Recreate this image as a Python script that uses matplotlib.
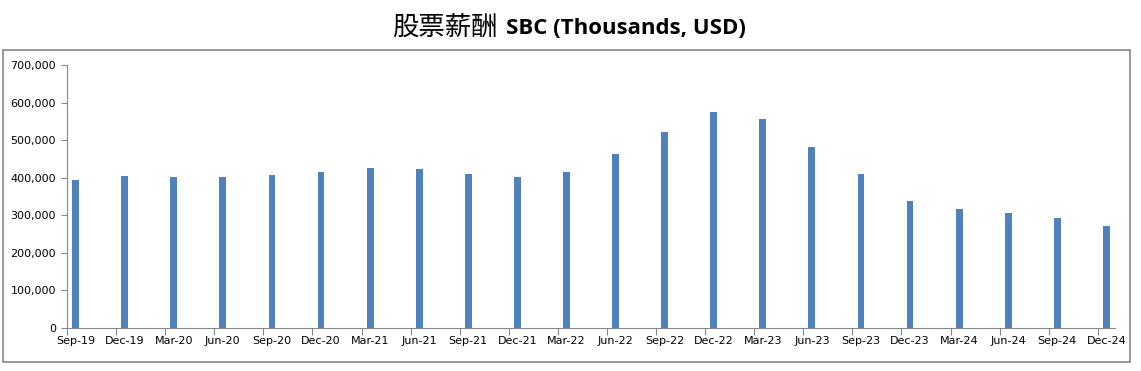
import numpy as np
import matplotlib
matplotlib.use("Agg")
import matplotlib.pyplot as plt
from matplotlib.patches import Rectangle
from matplotlib.ticker import FuncFormatter

# quarterly stock based compensation, thousands USD
quarters = ["Sep-19", "Dec-19", "Mar-20", "Jun-20", "Sep-20", "Dec-20", "Mar-21", "Jun-21",
            "Sep-21", "Dec-21", "Mar-22", "Jun-22", "Sep-22", "Dec-22", "Mar-23", "Jun-23",
            "Sep-23", "Dec-23", "Mar-24", "Jun-24", "Sep-24", "Dec-24"]
sbc = [394000, 404000, 402000, 402000, 407000, 415000, 426000, 423000,
       410000, 402000, 415000, 463000, 522000, 575000, 556000, 482000,
       410000, 338000, 317000, 306000, 293000, 271000]
y_ticks = [0, 100000, 200000, 300000, 400000, 500000, 600000, 700000]

W, H = 1141, 371
fig = plt.figure(figsize=(W / 100, H / 100), dpi=100)

# outer chart border
fig.patches.append(Rectangle((3 / W, 1 - 362 / H), 1127 / W, 312 / H, transform=fig.transFigure,
                             fill=False, edgecolor="#868686", linewidth=1.2))

ax = fig.add_axes([67 / W, 1 - 328 / H, (1115 - 67) / W, (328 - 65) / H])

x = np.arange(len(quarters))
ax.bar(x, sbc, width=0.14, color="#4F81BD")

off = 0.175
ax.set_xlim(-off, len(quarters) - 1 + off)
ax.set_ylim(0, 700000)

# ticks sit a bit left of each bar, labels under the bars
ax.set_xticks(x - off)
ax.set_xticklabels([])
ax.set_xticks(x, minor=True)
ax.set_xticklabels(quarters, minor=True)
ax.tick_params(axis="x", which="minor", length=0, pad=6)
ax.tick_params(axis="x", which="major", length=5, direction="out", color="#868686")

ax.set_yticks(y_ticks)
ax.yaxis.set_major_formatter(FuncFormatter(lambda v, p: f"{int(v):,}"))
ax.tick_params(axis="y", length=4, direction="out", color="#868686", pad=4)

for lbl in ax.get_xticklabels(minor=True) + ax.get_yticklabels():
    lbl.set_fontsize(8)
    lbl.set_family("DejaVu Sans")

for side in ["top", "right"]:
    ax.spines[side].set_visible(False)
for side in ["left", "bottom"]:
    ax.spines[side].set_color("#868686")

# title: Chinese part regular, English part bold
fig.text(498 / W, 1 - 28 / H, "股票薪酬", ha="right", va="center", fontsize=19,
         family=["Noto Sans CJK SC", "DejaVu Sans"])
fig.text(506 / W, 1 - 28 / H, "SBC (Thousands, USD)", ha="left", va="center", fontsize=16,
         fontweight="bold", family=["Open Sans", "DejaVu Sans"])

fig.savefig("out.png", dpi=100)
